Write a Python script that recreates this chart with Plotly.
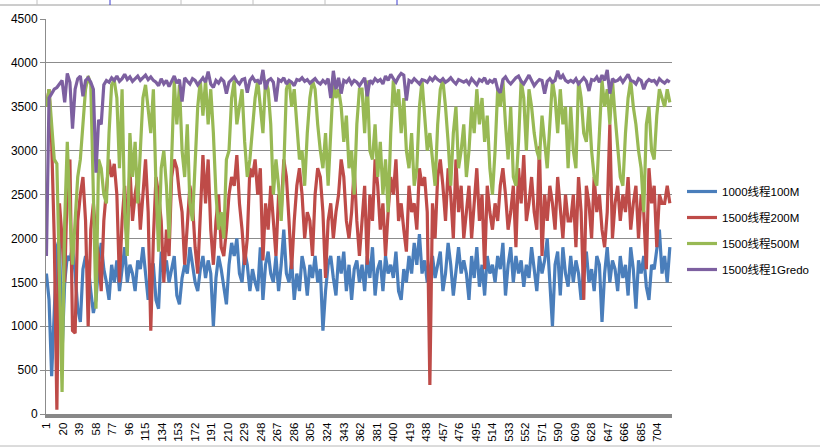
import plotly.graph_objects as go

series_names = ["1000线程100M", "1500线程200M", "1500线程500M", "1500线程1Gredo"]

blue_vals = [
    1600, 1300, 430, 1200, 1900, 2000, 700, 1500, 1800, 1750, 1900, 1600, 1200, 1050, 1650, 1800, 1700, 1400, 1150, 1300,
    1700, 1950, 1650, 1500, 1300, 1700, 1500, 1750, 1400, 1650, 1900, 1500, 1700, 1600, 1400, 1750, 1650, 1900, 1600, 1300, 1700,
    1700, 1300, 1200, 1850, 1600, 1750, 1500, 1650, 1800, 1350, 1250, 1550, 1700, 1600, 1900, 1700, 1500, 1400, 1650, 1800,
    1550, 1750, 1600, 1000, 1550, 1800, 1650, 1450, 1250, 1700, 1950, 1800, 2000, 1600, 1500, 1850, 1700, 1400, 1650, 1500,
    1400, 1900, 1300, 1700, 1850, 1600, 1500, 1800, 1400, 1700, 2100, 1600, 1500, 1750, 1300, 1600, 1400, 1800, 1650, 1350,
    1700, 1550, 1800, 1500, 1650, 950, 1400, 1700, 1800, 1550, 1350, 1800, 1600, 1850, 1400, 1700, 1300, 1650, 1750, 1500,
    1700, 1400, 1800, 1550, 1900, 1350, 1650, 1750, 1400, 1800, 1600, 1700, 1550, 1850, 1400, 1300, 1650, 1500, 1800, 1600,
    1950, 1700, 2050, 1600, 1750, 1500, 1650, 1800, 1550, 1700, 1850, 1400, 1600, 1950, 1700, 1350, 1650, 1900, 1600, 1750,
    1600, 1300, 1800, 1550, 1900, 1450, 1700, 1350, 1800, 1600, 1700, 1500, 1800, 1650, 1950, 1350, 1700, 1900, 1500, 1800,
    1600, 1750, 1450, 1700, 1550, 1900, 1650, 1400, 1800, 1600, 1750, 2000, 1500, 1000, 1700, 1850, 1350, 1900, 1600, 1450,
    1800, 1500, 1750, 1600, 1300, 1700, 1850, 1500, 1650, 1400, 1800, 1700, 1050, 1600, 1900, 1500, 1750, 1650, 1400, 1800,
    1550, 1700, 1350, 1900, 1650, 1200, 1750, 1600, 1800, 1450, 1300, 1700, 1650, 1900, 2100, 1600, 1800, 1500, 1900,
]

red_vals = [
    3500, 3700, 3100, 2000, 50, 2400, 2000, 1500, 2600, 2900, 950, 920, 2200, 2500, 2700, 2200, 1000, 2100, 2400, 2000,
    1800, 1400, 2200, 2600, 2900, 2700, 2850, 2500, 1500, 2200, 2600, 2000, 2800, 2200, 2500, 2700, 2100, 2500, 2900, 2300, 950,
    2000, 2700, 2500, 2200, 1500, 2100, 1800, 2700, 2900, 2800, 2500, 2300, 1700, 2200, 2600, 2400, 1900, 1600, 2300, 2950,
    2400, 2900, 2100, 1700, 2200, 2500, 1900, 1800, 2100, 2500, 2700, 2600, 2950, 2400, 2100, 1700, 2000, 2800, 2700, 2900,
    2500, 2800, 1750, 2400, 2100, 2600, 2200, 1800, 2500, 2300, 2900, 2700, 2200, 1650, 2200, 2600, 2800, 2500, 2000, 2300,
    2200, 1800, 2500, 2800, 2700, 2300, 1550, 2200, 2400, 2000, 2300, 2500, 2900, 2700, 2200, 2000, 2300, 2800, 2200, 1800,
    2200, 2600, 1700, 2500, 2200, 2900, 2600, 2100, 2400, 1800, 2300, 2700, 2500, 2900, 2200, 2400, 2100, 1850, 2600, 2300,
    2400, 2100, 2800, 2600, 2700, 2300, 330, 2400, 2000, 2700, 2900, 2600, 2200, 2800, 2500, 2000, 2900, 2300, 2600, 2000,
    2300, 2600, 2000, 2400, 2800, 2200, 2500, 1650, 2600, 2300, 2100, 2400, 2200, 2600, 2800, 2500, 2100, 2300, 2600, 1900,
    2800, 2400, 2950, 2200, 2400, 2700, 2300, 2100, 3050, 1800, 2500, 2200, 2600, 2400, 2100, 2700, 2300, 2000, 2500, 2200,
    2200, 2500, 1900, 2700, 2300, 1300, 2600, 2400, 2000, 2700, 2300, 2500, 2100, 1900, 2300, 3300, 2000, 2400, 2600, 2200,
    2500, 2300, 2700, 2100, 2400, 2600, 2000, 2500, 2300, 1650, 2800, 2400, 2600, 1900, 2500, 2400, 2400, 2600, 2400,
]

green_vals = [
    3500, 3700, 3300, 2900, 2850, 1600, 250, 2200, 3100, 2300, 1700, 2200, 2700, 2900, 3300, 3700, 3850, 3750, 2500, 1200,
    2900, 2800, 2500, 2400, 3200, 3750, 3800, 3600, 2800, 3700, 2300, 1800, 3200, 2700, 3100, 2400, 3000, 3600, 3750, 3500, 3200,
    3700, 2600, 1850, 2800, 3000, 2600, 2000, 2900, 3800, 3300, 3750, 3000, 2700, 3300, 2400, 2200, 2900, 3500, 3800, 3400,
    3800, 3300, 3700, 3200, 2500, 2100, 2300, 2000, 2900, 3000, 3600, 3800, 3300, 3500, 3700, 3100, 2700, 2900, 3300, 3600,
    3800, 3500, 3200, 3800, 3700, 3300, 2500, 2900, 2600, 2200, 2800, 3700, 3800, 3500, 3700, 3300, 2900, 3000, 2600, 3200,
    3600, 3800, 3700, 3300, 3000, 2800, 3200, 2600, 3300, 3800, 3600, 3700, 3500, 3100, 3400, 2800, 3000, 2500, 3300, 3700,
    3700, 3200, 3800, 3000, 2900, 3300, 2700, 3100, 2500, 2900, 2300, 3200, 3800, 3500, 3700, 3200, 3600, 3000, 2800, 3200,
    2600, 2800, 3500, 3800, 3400, 3000, 3200, 2900, 2600, 3300, 3700, 3800, 3500, 3100, 2600, 3200, 3500, 2800, 3000, 3300,
    2700, 3000, 3500, 3200, 3700, 3300, 3600, 3100, 3400, 2800, 2500, 3000, 3700, 3500, 3800, 3300, 2900, 3500, 2700, 2600,
    3100, 3800, 3600, 3000, 3700, 3500, 3200, 3000, 2900, 3400, 3100, 2800, 3300, 3800, 3600, 3200, 3700, 3300, 3500, 2800,
    3500, 3000, 2800, 3800, 3600, 3200, 3100, 3500, 3000, 2700, 2600, 3300, 3800, 3500, 3700, 3300, 3800, 3400, 3000, 2700,
    2600, 3200, 3600, 3800, 3500, 3300, 3000, 2800, 2300, 3300, 3500, 3000, 2900, 3400, 3700, 3600, 3500, 3700, 3550,
]

purple_vals = [
    1800, 3600, 3650, 3700, 3720, 3760, 3800, 3550, 3880, 3780, 3250, 3700, 3820, 3850, 3620, 3800, 3830, 3780, 3700, 2750,
    3350, 3300, 3750, 3800, 3780, 3830, 3800, 3850, 3790, 3820, 3870, 3810, 3840, 3790, 3820, 3850, 3800, 3830, 3860, 3810, 3840,
    3800, 3780, 3740, 3820, 3760, 3800, 3730, 3790, 3850, 3770, 3810, 3560, 3830, 3790, 3760, 3820, 3800, 3750, 3790, 3830,
    3780, 3900, 3760, 3720, 3800, 3770, 3820, 3790, 3650, 3780, 3810, 3840, 3790, 3760, 3810, 3820, 3660, 3800, 3840, 3790,
    3800, 3760, 3920, 3700, 3800, 3820, 3780, 3560, 3810, 3790, 3830, 3760, 3800, 3780, 3740, 3810, 3800, 3830, 3790, 3810,
    3770, 3800, 3820, 3780, 3760, 3800, 3770, 3820, 3600, 3910, 3700, 3830, 3650, 3800, 3780, 3820, 3760, 3800, 3780, 3740,
    3780, 3830, 3620, 3800, 3770, 3820, 3790, 3810, 3760, 3850, 3800, 3870, 3820, 3780, 3840, 3880, 3860, 3570, 3800, 3780,
    3820, 3790, 3760, 3810, 3800, 3780, 3830, 3800, 3840, 3810, 3790, 3820, 3780, 3800, 3830, 3790, 3760, 3810, 3790, 3780,
    3800, 3760, 3820, 3780, 3750, 3810, 3790, 3830, 3760, 3800, 3780, 3820, 3700, 3660, 3810, 3840, 3790, 3760, 3800, 3830,
    3850, 3790, 3760, 3820, 3860, 3800, 3740, 3780, 3810, 3800, 3650, 3790, 3820, 3780, 3800, 3910, 3820, 3860, 3800, 3780,
    3800, 3780, 3820, 3760, 3800, 3830, 3790, 3680, 3810, 3800, 3840, 3780, 3860, 3800, 3920, 3650, 3820, 3790, 3800, 3830,
    3780, 3820, 3870, 3800, 3790, 3760, 3820, 3800, 3700, 3780, 3810, 3790, 3800, 3760, 3820, 3790, 3770, 3800, 3780,
]

sample_step = 3
n_categories = 720
x_tick_vals = list(range(1, n_categories + 1, 19))
x_tick_text = [str(v) for v in x_tick_vals]
y_tick_vals = list(range(0, 4501, 500))

colors = ["#4A7EBB", "#BE4B48", "#98B954", "#7D60A0"]
all_vals = [blue_vals, red_vals, green_vals, purple_vals]

fig = go.Figure()
for name, vals, col in zip(series_names, all_vals, colors):
    xs = [1 + sample_step * k for k in range(len(vals))]
    fig.add_trace(go.Scatter(
        x=xs, y=vals, mode="lines", name=name, legendgroup=name,
        line=dict(color=col, width=3.2),
    ))

W, H = 820, 448
L, R, T, B = 46, 148, 19, 34
pw, ph = W - L - R, H - T - B

def px_to_paper_y(py):
    return (H - B - py) / ph

def px_to_paper_x(px):
    return (px - L) / pw

shapes = []
# spreadsheet remnants (top row and bottom row borders)
shapes.append(dict(type="line", xref="paper", yref="paper",
                   x0=px_to_paper_x(0), x1=px_to_paper_x(W), y0=px_to_paper_y(5), y1=px_to_paper_y(5),
                   line=dict(color="#9a9a9a", width=1)))
for cx, cc in [(37, "#c0c0c0"), (110, "#3a3ad0"), (181, "#c0c0c0"), (253, "#c0c0c0"), (325, "#c0c0c0"), (397, "#3a3ad0")]:
    shapes.append(dict(type="line", xref="paper", yref="paper",
                       x0=px_to_paper_x(cx), x1=px_to_paper_x(cx), y0=px_to_paper_y(0), y1=px_to_paper_y(5),
                       line=dict(color=cc, width=1)))
shapes.append(dict(type="line", xref="paper", yref="paper",
                   x0=px_to_paper_x(0), x1=px_to_paper_x(W), y0=px_to_paper_y(446), y1=px_to_paper_y(446),
                   line=dict(color="#b8b8b8", width=1)))

fig.update_layout(
    width=W, height=H,
    margin=dict(l=L, r=R, t=T, b=B, pad=0, autoexpand=False),
    paper_bgcolor="white", plot_bgcolor="white",
    font=dict(family="Liberation Sans, Arial, sans-serif", size=12, color="black"),
    showlegend=True,
    legend=dict(
        x=px_to_paper_x(682), y=px_to_paper_y(177), xanchor="left", yanchor="top",
        font=dict(family="Liberation Sans, Noto Sans CJK SC, sans-serif", size=11.5, color="black"),
        itemwidth=30, tracegroupgap=7, bgcolor="rgba(0,0,0,0)",
    ),
    shapes=shapes,
    xaxis=dict(
        range=[0.5, n_categories + 0.5],
        tickmode="array", tickvals=x_tick_vals, ticktext=x_tick_text,
        tickangle=-90, tickfont=dict(size=11.5),
        showgrid=False, zeroline=False, automargin=False,
        showline=True, linecolor="#888888", linewidth=4,
        ticks="", ticklen=0,
    ),
    yaxis=dict(
        range=[0, 4500], tickmode="array", tickvals=y_tick_vals,
        showgrid=True, gridcolor="#8c8c8c", gridwidth=1,
        zeroline=False, automargin=False,
        showline=True, linecolor="#8c8c8c", linewidth=1,
        ticks="outside", ticklen=5, tickcolor="#8c8c8c",
        tickfont=dict(size=12),
    ),
)

fig.write_html("out.html")
